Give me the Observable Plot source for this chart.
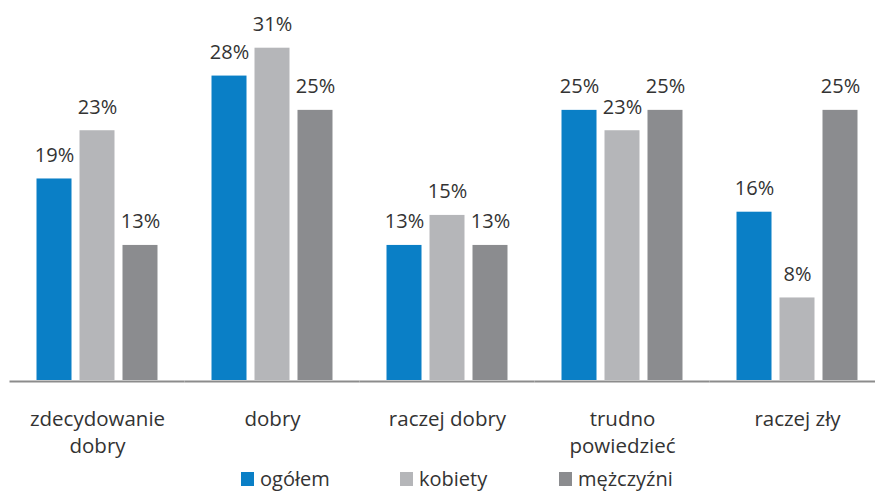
<!DOCTYPE html>
<html>
<head>
<meta charset="utf-8">
<script src="https://cdn.jsdelivr.net/npm/d3@7"></script>
<script src="https://cdn.jsdelivr.net/npm/@observablehq/plot@0.6"></script>
<style>
  body { margin: 0; background: #fff; font-family: "Open Sans", sans-serif; }
  #chart svg { display: block; }
  .legend { margin-top: 3px; padding-left: 241px; font-size: 20px; color: #333; white-space: nowrap; }
  .legend .item { display: inline-block; width: 159px; }
  .legend .sw { display: inline-block; width: 13px; height: 14px; margin-right: 6px; vertical-align: baseline; }
</style>
</head>
<body>
<div id="chart"></div>
<div class="legend" id="legend"></div>
<script>
const categories = ["zdecydowanie\ndobry", "dobry", "raczej dobry", "trudno\npowiedzieć", "raczej zły"];
const series = ["ogółem", "kobiety", "mężczyźni"];
const ogolem    = [18.8, 28.4, 12.6, 25.2, 15.7];
const kobiety   = [23.3, 31.0, 15.4, 23.3, 7.7];
const mezczyzni = [12.6, 25.2, 12.6, 25.2, 25.2];
const colors = ["#0a7fc6", "#b5b6b9", "#8b8c8f"];

const valuesBySeries = [ogolem, kobiety, mezczyzni];
const data = categories.flatMap((c, i) =>
  series.map((s, j) => ({cat: c, series: s, value: valuesBySeries[j][i]})));

const chart = Plot.plot({
  width: 875,
  height: 462,
  marginTop: 47.7,
  marginBottom: 82,
  marginLeft: 8,
  marginRight: 0,
  style: {fontFamily: "'Open Sans', sans-serif", fontSize: "20px", color: "#333", background: "#fff"},
  fx: {domain: categories, range: [9.5, 884.5], padding: 0, round: false, label: null},
  x: {domain: series, axis: null, paddingInner: 0.186, paddingOuter: 0.628, round: false},
  y: {domain: [0, 31], axis: null},
  color: {domain: series, range: colors},
  marks: [
    Plot.barY(data, {fx: "cat", x: "series", y: "value", fill: "series"}),
    Plot.ruleY([0], {stroke: "#8c8c8c", strokeWidth: 2, dy: 1}),
    Plot.text(data, {fx: "cat", x: "series", y: "value", text: d => Math.round(d.value) + "%",
      lineAnchor: "bottom", dy: -17, fontSize: 20, fill: "#333"}),
    Plot.axisFx({anchor: "bottom", tickSize: 0, tickPadding: 26, fontSize: 20.5, lineHeight: 1.32, label: null, fill: "#333"})
  ]
});
document.getElementById("chart").appendChild(chart);

const legend = document.getElementById("legend");
series.forEach((s, j) => {
  const item = document.createElement("span");
  item.className = "item";
  const sw = document.createElement("span");
  sw.className = "sw";
  sw.style.background = colors[j];
  item.appendChild(sw);
  item.appendChild(document.createTextNode(s));
  legend.appendChild(item);
});
</script>
</body>
</html>
